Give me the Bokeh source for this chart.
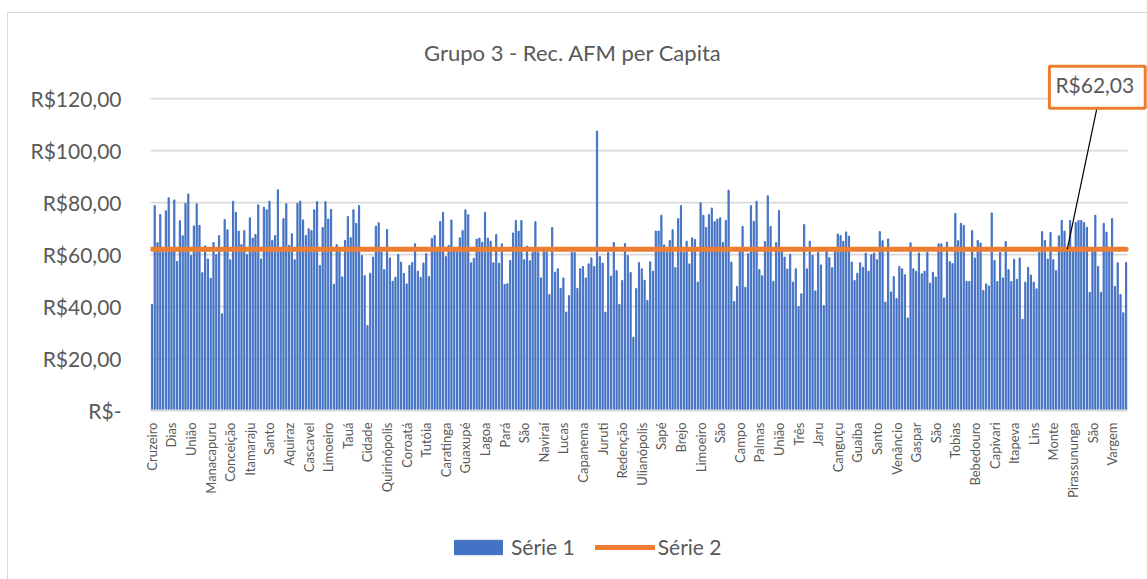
import math
from bokeh.plotting import figure
from bokeh.layouts import column
from bokeh.models import (FixedTicker, Label, Legend, LegendItem, ColumnDataSource, Range1d)
from bokeh.embed import file_html
from bokeh.resources import INLINE

# ---------------- data ----------------
series1 = [
    40.8, 78.8, 64.6, 75.4, 61.0, 76.8, 81.8, 61.5, 81.0, 57.3,
    73.0, 67.2, 79.7, 83.3, 59.6, 71.0, 79.5, 71.2, 53.0, 63.3,
    58.3, 50.9, 64.6, 60.0, 67.3, 37.2, 73.5, 69.5, 58.0, 80.5,
    76.2, 69.0, 63.8, 69.2, 60.0, 74.1, 66.3, 67.7, 79.1, 58.3,
    78.2, 77.2, 80.5, 65.4, 67.3, 84.9, 61.5, 73.8, 79.5, 63.5,
    68.0, 58.0, 79.7, 80.5, 73.3, 67.3, 69.9, 69.2, 77.2, 80.3,
    55.8, 70.4, 80.3, 73.7, 77.3, 48.6, 63.8, 61.5, 51.4, 65.4,
    74.6, 66.5, 77.2, 72.0, 78.8, 59.6, 51.9, 32.7, 52.8, 59.0,
    70.9, 72.2,
    61.0, 54.2, 69.6, 58.7, 49.7, 51.3, 60.0, 57.1, 52.7, 48.7,
    55.8, 56.9, 64.1, 53.6, 51.2, 56.7, 60.4, 51.5, 66.2, 67.3,
    61.5, 72.7, 76.2, 59.2, 63.5, 73.3, 61.5, 61.0, 66.4, 69.2,
    77.2, 75.3, 56.8, 58.5, 65.9, 66.3, 64.7, 76.2, 66.3, 65.1,
    56.8, 67.7, 56.7, 64.1, 48.5, 48.8, 57.7, 68.3, 73.1, 69.0,
    73.1, 58.0, 63.2, 57.6, 60.8, 72.6, 60.8, 51.0, 61.5, 61.0,
    44.6, 70.4, 53.2, 54.5, 47.0, 51.0, 37.9, 44.2, 60.8, 60.8,
    47.0, 54.5, 55.4, 51.0, 56.4, 58.7, 55.4, 107.5, 59.2, 56.7,
    37.8, 60.8,
    51.7, 64.6, 53.8, 40.8, 50.0, 64.2, 59.6, 53.1, 28.2, 46.9,
    56.9, 54.5, 50.1, 42.3, 57.2, 53.6, 69.0, 69.0, 75.1, 63.7,
    60.9, 65.4, 69.5, 55.0, 73.8, 78.8, 60.8, 65.1, 56.4, 66.4,
    65.8, 49.4, 79.9, 75.1, 70.4, 75.4, 77.9, 72.7, 73.6, 74.1,
    64.6, 73.1, 84.7, 57.1, 41.9, 47.7, 61.5, 70.8, 47.4, 60.3,
    78.8, 72.8, 80.5, 54.2, 51.8, 65.0, 82.6, 70.8, 49.7, 64.6,
    76.9, 61.5, 59.0, 54.4, 60.1, 49.4, 54.5, 40.0, 44.9, 71.5,
    54.5, 65.1, 59.7, 46.0, 60.8, 56.0, 40.3, 61.5, 58.8, 54.9,
    61.5, 67.9,
    67.3, 65.1, 68.7, 67.1, 57.1, 50.0, 52.8, 56.8, 55.1, 60.5,
    53.6, 59.9, 60.6, 58.0, 68.8, 65.3, 41.7, 66.0, 45.6, 51.5,
    43.1, 55.4, 54.5, 52.2, 35.6, 64.5, 54.5, 53.6, 60.6, 52.6,
    53.6, 60.8, 49.0, 53.2, 51.3, 64.1, 64.1, 43.3, 64.7, 57.3,
    56.5, 75.8, 65.3, 72.0, 71.2, 49.7, 49.6, 69.2, 58.7, 65.4,
    64.4, 46.2, 48.7, 47.9, 76.0, 57.7, 49.6, 60.8, 51.0, 65.0,
    54.2, 49.6, 58.2, 50.5, 58.7, 35.1, 49.4, 55.1, 52.1, 49.4,
    46.8, 60.8, 68.8, 65.4, 58.3, 68.5, 58.0, 53.8, 67.2, 73.1,
    69.0, 61.5, 73.1, 61.5, 72.3, 73.1, 73.1, 72.3, 70.5, 45.5,
    61.5, 75.1, 55.4, 45.5, 72.0, 68.6, 61.5, 73.8, 47.7, 56.8,
    44.6, 37.6, 56.9,
]
series2 = [62.03] * len(series1)

tick_labels = [
    "Cruzeiro", "Dias", "União", "Manacapuru", "Conceição", "Itamaraju", "Santo",
    "Aquiraz", "Cascavel", "Limoeiro", "Tauá", "Cidade", "Quirinópolis", "Coroatá",
    "Tutóia", "Caratinga", "Guaxupé", "Lagoa", "Pará", "São", "Naviraí", "Lucas",
    "Capanema", "Juruti", "Redenção", "Ulianópolis", "Sapé", "Brejo", "Limoeiro",
    "São", "Campo", "Palmas", "União", "Três", "Jaru", "Canguçu", "Guaíba", "Santo",
    "Venâncio", "Gaspar", "São", "Tobias", "Bebedouro", "Capivari", "Itapeva", "Lins",
    "Monte", "Pirassununga", "São", "Vargem",
]
label_step = 7
y_ticks = [0, 20, 40, 60, 80, 100, 120]

chart_title = "Grupo 3 - Rec. AFM per Capita"
series_names = ["Série 1", "Série 2"]
avg_text = "R$62,03"
avg_point = 327

# ---------------- style ----------------
FONT = "Lato"
GREY = "#595959"
BLUE = "#4472C4"
ORANGE = "#ED7D31"
GRID = "#D9D9D9"

W = 1147
H_MAIN, H_LEG = 530, 49
LEFT = 150          # x of the category area start
PLOT_W = 977        # width of the category area (px)
FRAME_BOTTOM = 410  # y of value 0
PLOT_H = 312        # height of 0..120 (px)

n = len(series1)
x_end = (n - 0.5) + (W - LEFT - PLOT_W) * n / PLOT_W
y_end = 120 * FRAME_BOTTOM / PLOT_H

# chart-area outline (light grey line at left and top), painted behind the
# transparent canvases
outline_css = ("linear-gradient(#D9D9D9,#D9D9D9) 7px 12px / 1px 100% no-repeat, "
               "linear-gradient(#D9D9D9,#D9D9D9) 7px 12px / 100% 1px no-repeat")
leg_css = "linear-gradient(#D9D9D9,#D9D9D9) 7px 0px / 1px 100% no-repeat"

src = ColumnDataSource(dict(x=list(range(n)), s1=series1, s2=series2))

p = figure(width=W, height=H_MAIN, output_backend="svg", toolbar_location=None,
           x_range=Range1d(-0.5, x_end), y_range=Range1d(0, y_end),
           min_border_left=LEFT, min_border_right=0, min_border_top=0,
           min_border_bottom=H_MAIN - FRAME_BOTTOM)
p.outline_line_color = None
p.background_fill_color = None
p.border_fill_color = None
p.styles = {"background": outline_css}

# gridlines limited to the category area
yt = FixedTicker(ticks=y_ticks)
p.ygrid.ticker = yt
p.ygrid.grid_line_color = GRID
p.ygrid.grid_line_width = 1.75
try:
    p.ygrid.cross_bounds = (-0.5, n - 0.5)
except Exception:
    p.ygrid.visible = False
    p.segment(x0=[-0.5] * len(y_ticks), x1=[n - 0.5] * len(y_ticks),
              y0=y_ticks, y1=y_ticks, line_color=GRID, line_width=1.75)
p.xgrid.visible = False

bars = p.vbar(x="x", top="s1", width=0.42, source=src, color=BLUE)
line = p.line(x="x", y="s2", source=src, line_color=ORANGE, line_width=5,
              line_cap="round")

# y axis
def fmt(v):
    return "R$-" if v == 0 else ("R$%.2f" % v).replace(".", ",")

p.yaxis.ticker = yt
p.yaxis.major_label_overrides = {v: fmt(v) for v in y_ticks}
p.yaxis.axis_line_color = None
p.yaxis.major_tick_line_color = None
p.yaxis.minor_tick_line_color = None
p.yaxis.major_label_standoff = 23
p.yaxis.major_label_text_font = FONT
p.yaxis.major_label_text_font_size = "21px"
p.yaxis.major_label_text_color = GREY

# x axis
xticks = [i * label_step for i in range(len(tick_labels))]
p.xaxis.ticker = FixedTicker(ticks=xticks)
p.xaxis.major_label_overrides = {t: lab for t, lab in zip(xticks, tick_labels)}
p.xaxis.major_label_orientation = math.pi / 2
p.xaxis.bounds = (-0.5, n - 0.5)
p.xaxis.axis_line_color = GRID
p.xaxis.axis_line_width = 2
p.xaxis.major_tick_line_color = None
p.xaxis.minor_tick_line_color = None
p.xaxis.major_label_standoff = 6
p.xaxis.major_label_text_font = FONT
p.xaxis.major_label_text_font_size = "13px"
p.xaxis.major_label_text_color = GREY

# title (inside the extended frame)
p.add_layout(Label(x=422.5, y=FRAME_BOTTOM - 52, x_units="screen", y_units="screen",
                   text=chart_title, text_align="center", text_baseline="middle",
                   text_font=FONT, text_font_size="22px", text_color=GREY))

# data label with leader line
p.segment(x0=[avg_point], y0=[series2[avg_point]],
          x1=[avg_point + 10.6], y1=[series2[avg_point] + 54.4],
          line_color="black", line_width=1.2)
p.add_layout(Label(x=avg_point, y=series2[avg_point], x_offset=30, y_offset=162,
                   text=avg_text, text_align="center", text_baseline="middle",
                   text_font=FONT, text_font_size="21px", text_color=GREY,
                   border_line_color=ORANGE, border_line_width=3,
                   background_fill_color="white", padding=(6, 11, 6, 11)))

# legend strip below the chart (its frame is aligned with the chart's frame);
# the key renderers reuse the series, which lie below this strip's y range.
lf = figure(width=W, height=H_LEG, output_backend="svg", toolbar_location=None,
            x_range=Range1d(-0.5, x_end), y_range=Range1d(1000, 1001),
            x_axis_location=None, y_axis_location=None,
            min_border_left=LEFT, min_border_right=0, min_border_top=0,
            min_border_bottom=0)
lf.outline_line_color = None
lf.background_fill_color = None
lf.border_fill_color = None
lf.grid.visible = False
lf.styles = {"background": leg_css}
key_bar = lf.vbar(x="x", top="s1", width=0.42, source=src, color=BLUE)
key_line = lf.line(x="x", y="s2", source=src, line_color=ORANGE, line_width=5,
                   line_cap="round")
legend = Legend(items=[LegendItem(label=series_names[0], renderers=[key_bar]),
                       LegendItem(label=series_names[1], renderers=[key_line])],
                orientation="horizontal", location=(298, 20),
                glyph_width=60, glyph_height=18, label_height=18,
                label_standoff=3, spacing=20,
                padding=0, margin=0, border_line_color=None,
                background_fill_alpha=0, label_text_font=FONT,
                label_text_font_size="21px", label_text_color=GREY)
lf.add_layout(legend)

layout = column(p, lf, spacing=0)
open("out.html", "w").write(file_html(layout, INLINE))
